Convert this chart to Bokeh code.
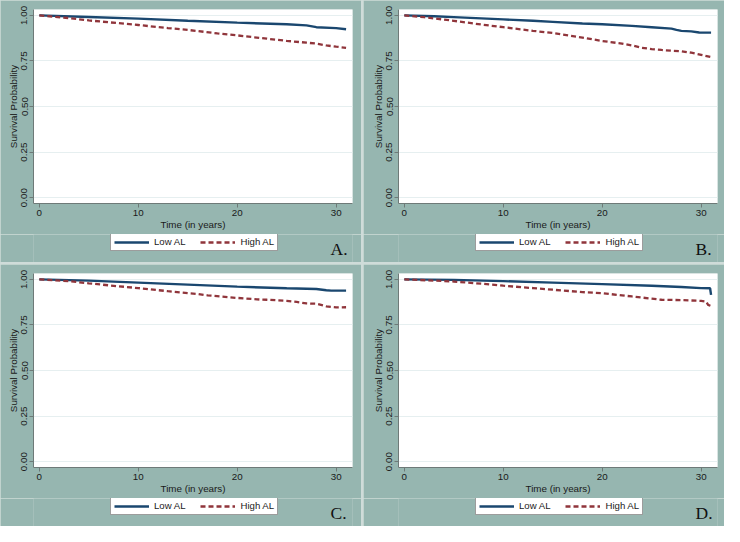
from bokeh.plotting import figure
from bokeh.layouts import column, row
from bokeh.models import Legend, LegendItem, Label, FixedTicker, NumeralTickFormatter
from bokeh.embed import file_html
from bokeh.resources import INLINE

# ---- data ----
a_low_t = [0, 5, 10, 15, 20, 25, 27, 28, 30, 31]
a_low_s = [1.0, 0.991, 0.982, 0.970, 0.960, 0.951, 0.945, 0.935, 0.930, 0.924]
a_high_t = [0, 1, 3, 5, 8, 10, 13, 15, 18, 20, 23, 25, 27, 28, 29, 30, 31]
a_high_s = [1.0, 0.995, 0.985, 0.972, 0.957, 0.947, 0.930, 0.920, 0.901, 0.890, 0.872, 0.860, 0.850, 0.845, 0.835, 0.828, 0.822]

b_low_t = [0, 3, 5, 10, 13, 15, 18, 20, 23, 25, 27, 27.5, 28, 29, 29.8, 31]
b_low_s = [1.0, 0.995, 0.990, 0.978, 0.970, 0.964, 0.955, 0.951, 0.942, 0.935, 0.927, 0.920, 0.915, 0.912, 0.906, 0.905]
b_high_t = [0, 2, 5, 8, 10, 13, 15, 18, 20, 22, 23, 24, 25, 26, 27, 28, 29, 30, 31]
b_high_s = [1.0, 0.990, 0.970, 0.948, 0.935, 0.915, 0.903, 0.878, 0.859, 0.845, 0.835, 0.822, 0.815, 0.810, 0.806, 0.803, 0.795, 0.783, 0.771]

c_low_t = [0, 5, 10, 15, 20, 25, 28, 29, 29.5, 31]
c_low_s = [1.0, 0.993, 0.982, 0.971, 0.960, 0.951, 0.947, 0.940, 0.938, 0.938]
c_high_t = [0, 3, 5, 8, 10, 13, 15, 16, 17, 20, 22, 23, 25, 26, 27, 28, 29, 30, 31]
c_high_s = [1.0, 0.990, 0.978, 0.962, 0.952, 0.935, 0.924, 0.920, 0.912, 0.898, 0.890, 0.888, 0.882, 0.876, 0.868, 0.866, 0.852, 0.846, 0.847]

d_low_t = [0, 5, 10, 15, 20, 25, 28, 30, 30.9, 31]
d_low_s = [1.0, 0.997, 0.990, 0.982, 0.974, 0.965, 0.958, 0.952, 0.951, 0.915]
d_high_t = [0, 3, 5, 8, 10, 13, 15, 18, 20, 22, 23, 25, 26, 28, 30, 30.5, 30.7, 31]
d_high_s = [1.0, 0.993, 0.988, 0.975, 0.965, 0.952, 0.943, 0.930, 0.924, 0.912, 0.906, 0.894, 0.888, 0.886, 0.882, 0.878, 0.860, 0.854]

x_ticks = [0, 10, 20, 30]
y_ticks = [0, 0.25, 0.5, 0.75, 1.0]
series_names = ["Low AL", "High AL"]
panel_labels = ["A.", "B.", "C.", "D."]

# ---- style ----
BG = "#96b6b0"
SEP = "#cfdcd9"
LOW_C = "#1a476f"
HIGH_C = "#90353b"
FONT = "Liberation Sans"
W = 361          # panel width  (2 panels + 2px gap = 724)
MAIN_H = 234     # plot part of a panel
STRIP_H = 28     # legend / label strip of a panel (panel height 262; 2 rows + gap = 526)
STRIP_X0 = 40    # strip x-range starts past the data, so only the legend shows there


def make_main(low_t, low_s, high_t, high_s, left, right):
    p = figure(width=W, height=MAIN_H, x_range=(-0.59, 31.65), y_range=(-0.032, 1.032),
               output_backend="svg", toolbar_location=None,
               min_border_left=left, min_border_right=right,
               min_border_top=9, min_border_bottom=31)
    p.border_fill_color = BG
    p.background_fill_color = "white"
    p.outline_line_color = None
    p.xgrid.grid_line_color = None
    p.ygrid.grid_line_color = "#e6eff0"
    p.ygrid.grid_line_width = 1
    p.xaxis.ticker = FixedTicker(ticks=x_ticks)
    p.yaxis.ticker = FixedTicker(ticks=y_ticks)
    p.yaxis.formatter = NumeralTickFormatter(format="0.00")
    p.yaxis.major_label_orientation = "vertical"
    for ax in (p.xaxis[0], p.yaxis[0]):
        ax.axis_line_color = "#6e7a78"
        ax.major_tick_line_color = "#6e7a78"
        ax.minor_tick_line_color = None
        ax.major_tick_out = 4
        ax.major_tick_in = 0
        ax.major_label_standoff = 2
        ax.axis_label_standoff = 0
        ax.major_label_text_font = FONT
        ax.major_label_text_font_size = "9.8px"
        ax.major_label_text_color = "#1a1a1a"
        ax.axis_label_text_font = FONT
        ax.axis_label_text_font_size = "9.8px"
        ax.axis_label_text_font_style = "normal"
        ax.axis_label_text_color = "#1a1a1a"
    p.xaxis.axis_label = "Time (in years)"
    p.yaxis.axis_label = "Survival Probability"

    p.line(low_t, low_s, line_color=LOW_C, line_width=2.4)
    p.line(high_t, high_s, line_color=HIGH_C, line_width=2.3, line_dash="5 3")
    return p


def make_strip(low_t, low_s, high_t, high_s, tag, left, right, leg_x, tag_x):
    fw = W - left - right
    s = figure(width=W, height=STRIP_H, x_range=(STRIP_X0, STRIP_X0 + fw), y_range=(0, STRIP_H),
               output_backend="svg", toolbar_location=None,
               min_border_left=left, min_border_right=right,
               min_border_top=0, min_border_bottom=0,
               x_axis_location=None, y_axis_location=None)
    s.grid.visible = False
    s.border_fill_color = BG
    s.background_fill_color = BG
    s.outline_line_color = None
    r1 = s.line(low_t, low_s, line_color=LOW_C, line_width=2.4)
    r2 = s.line(high_t, high_s, line_color=HIGH_C, line_width=2.3, line_dash="5 3")
    leg = Legend(items=[LegendItem(label=series_names[0], renderers=[r1]),
                        LegendItem(label=series_names[1], renderers=[r2])],
                 orientation="horizontal", location=(leg_x - left, 11))
    leg.glyph_width = 35
    leg.glyph_height = 10
    leg.label_height = 10
    leg.label_standoff = 5
    leg.spacing = 15
    leg.padding = 3
    leg.margin = 0
    leg.label_text_font = FONT
    leg.label_text_font_size = "9.6px"
    leg.label_text_color = "#1a1a1a"
    leg.border_line_color = "#3a3a3a"
    leg.border_line_width = 1
    leg.background_fill_color = "white"
    leg.background_fill_alpha = 1
    s.add_layout(leg)
    s.add_layout(Label(x=STRIP_X0 + tag_x - left, y=13.5, text=tag, text_font="Liberation Serif",
                       text_font_size="17.5px", text_color="#111111",
                       text_baseline="middle"))
    return s


pa = column(make_main(a_low_t, a_low_s, a_high_t, a_high_s, 33, 9),
            make_strip(a_low_t, a_low_s, a_high_t, a_high_s, panel_labels[0], 33, 9, 110, 330), spacing=0)
pb = column(make_main(b_low_t, b_low_s, b_high_t, b_high_s, 35, 7),
            make_strip(b_low_t, b_low_s, b_high_t, b_high_s, panel_labels[1], 35, 7, 112, 332), spacing=0)
pc = column(make_main(c_low_t, c_low_s, c_high_t, c_high_s, 33, 9),
            make_strip(c_low_t, c_low_s, c_high_t, c_high_s, panel_labels[2], 33, 9, 110, 330), spacing=0)
pd = column(make_main(d_low_t, d_low_s, d_high_t, d_high_s, 35, 7),
            make_strip(d_low_t, d_low_s, d_high_t, d_high_s, panel_labels[3], 35, 7, 112, 332), spacing=0)

p = column(row(pa, pb, spacing=2), row(pc, pd, spacing=2), spacing=2)
p.styles = {"background-color": SEP}

open("out.html", "w").write(file_html(p, INLINE))
